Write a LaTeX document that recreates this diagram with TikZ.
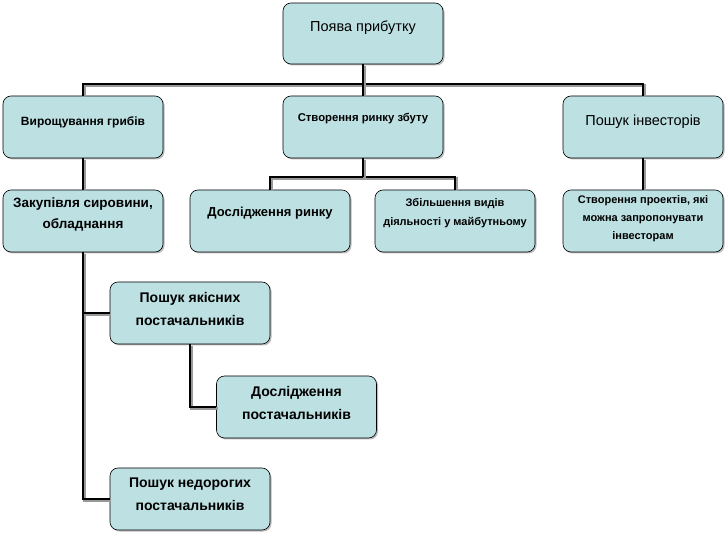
\documentclass[tikz,border=0pt]{standalone}
\usepackage{fontspec}
\setmainfont{Liberation Sans}
\usetikzlibrary{shadows}
\definecolor{boxfill}{RGB}{189,224,226}
\tikzset{
	box/.style={draw=black, line width=0.6pt, fill=boxfill, rounded corners=8pt,
		minimum width=160pt, minimum height=62pt, inner sep=0pt,
		drop shadow={shadow xshift=1.5pt, shadow yshift=-1.5pt, fill=black!45, opacity=0.6}},
	txt/.style={align=center, inner sep=0pt, font=\bfseries},
	wire/.style={line width=2.6pt, black,
		preaction={draw=black!40, line width=2.6pt, transform canvas={shift={(1.5pt,-1.5pt)}}}}
}
\newcommand{\fs}[2]{\fontsize{#1}{#2}\selectfont}
\begin{document}
\begin{tikzpicture}[x=1pt, y=-1pt]
		%%%%% START %%%%%
		\useasboundingbox (0, 0) rectangle (726, 534);
		
		\node[box, minimum height=61pt, label={[txt, font=\fs{14.5}{16}, yshift=6pt]center:Поява прибутку}] (top) at (363, 33.5) {};
		
		\node[box, label={[txt, font=\bfseries\fs{12}{14}, yshift=5pt]center:Вирощування грибів}] (grow) at (83, 127) {};
		\node[box, label={[txt, font=\bfseries\fs{11.3}{13}, yshift=8pt]center:Створення ринку збуту}] (market) at (363, 127) {};
		\node[box, label={[txt, font=\fs{14.5}{16}, yshift=5pt]center:Пошук інвесторів}] (invest) at (643, 127) {};
		
		\node[box, label={[txt, font=\bfseries\fs{13.5}{21}, yshift=7pt]center:{Закупівля сировини,\\обладнання}}] (buy) at (83, 221) {};
		\node[box, label={[txt, font=\bfseries\fs{13}{15}, yshift=8pt]center:Дослідження ринку}] (mres) at (270, 221) {};
		\node[box, label={[txt, font=\bfseries\fs{11}{19}, yshift=8pt]center:{Збільшення видів\\діяльності у майбутньому}}] (expand) at (455, 221) {};
		\node[box, label={[txt, font=\bfseries\fs{11}{18}, yshift=2pt]center:{Створення проектів, які\\можна запропонувати\\інвесторам}}] (projects) at (643, 221) {};
		
		\node[box, label={[txt, font=\bfseries\fs{14}{23}, yshift=4.5pt]center:{Пошук якісних\\постачальників}}] (quality) at (190, 313) {};
		\node[box, label={[txt, font=\bfseries\fs{14}{23}, yshift=4.5pt]center:{Дослідження\\постачальників}}] (supres) at (296.5, 407) {};
		\node[box, label={[txt, font=\bfseries\fs{14}{23}, yshift=4.5pt]center:{Пошук недорогих\\постачальників}}] (cheap) at (190, 499) {};
		
		\coordinate (b1) at (0, 84);
		\coordinate (b2) at (0, 177);
		
		\draw[wire] (grow.north) -- (grow.north |- b1) -- (invest.north |- b1) -- (invest.north);
		\draw[wire] (top.south) -- (market.north);
		\draw[wire] (grow.south) -- (buy.north);
		\draw[wire] (invest.south) -- (projects.north);
		
		\draw[wire] (mres.north) -- (mres.north |- b2) -- (expand.north |- b2) -- (expand.north);
		\draw[wire] (market.south) -- (market.south |- b2);
		
		\draw[wire] (buy.south) |- (cheap.west);
		\draw[wire] (buy.south |- quality.west) -- (quality.west);
		\draw[wire] (quality.south) |- (supres.west);
		
		%%%%% END %%%%%
	\end{tikzpicture}
\end{document}
